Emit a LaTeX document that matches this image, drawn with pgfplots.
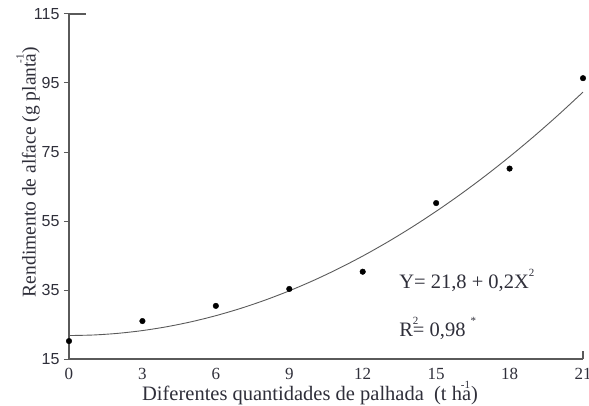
\documentclass[border=0pt]{standalone}
\usepackage{fontspec}
\setmainfont{Liberation Serif}
\newfontfamily\arial{Liberation Sans}
\usepackage{pgfplots}
\pgfplotsset{compat=1.18}
\definecolor{axgray}{HTML}{5A5A5A}
\definecolor{txt}{HTML}{2F2F3A}
\newcommand{\supr}[1]{\raisebox{12pt}{\fontsize{11}{11}\selectfont #1}}
\begin{document}
\begin{tikzpicture}
\useasboundingbox (-69pt,-46pt) rectangle (520pt,359pt);
\begin{axis}[
  scale only axis,
  width=514pt, height=345pt,
  at={(0,0)}, anchor=south west,
  xmin=0, xmax=21, ymin=15, ymax=115,
  axis x line*=bottom, axis y line*=left,
  axis line style={axgray, line width=1.1pt, -},
  xtick={0,3,...,21}, ytick={15,35,...,115},
  x tick style={draw=none},
  y tick style={axgray, line width=1pt},
  tick align=outside,
  major tick length=5pt,
  clip=false,
  xticklabel style={font=\fontsize{17}{19}\selectfont, text=txt, yshift=-1pt},
  yticklabel style={font=\arial\fontsize{16}{18}\selectfont, text=txt, xshift=-1pt},
  /pgf/number format/assume math mode=true,
  xlabel={Diferentes quantidades de palhada\ \ (t ha\llap{\supr{-1}\hspace{1pt}})},
  ylabel={Rendimento de alface (g planta\llap{\supr{-1}\hspace{1pt}})},
  every axis x label/.style={at={(axis description cs:0.469,0)}, yshift=-34pt, anchor=center, font=\fontsize{20.5}{22}\selectfont, text=txt},
  every axis y label/.style={at={(axis description cs:0,0.542)}, xshift=-41pt, rotate=90, anchor=center, font=\fontsize{19.5}{21}\selectfont, text=txt},
]
\addplot[axgray, line width=0.9pt, smooth, no marks] coordinates {
(0,21.8) (1,21.96) (2,22.44) (3,23.24) (4,24.36) (5,25.8) (6,27.56) (7,29.64)
(8,32.04) (9,34.76) (10,37.8) (11,41.16) (12,44.84) (13,48.84) (14,53.16)
(15,57.8) (16,62.76) (17,68.04) (18,73.64) (19,79.56) (20,85.8) (21,92.36)
};
\addplot[only marks, mark=*, mark size=2.8pt, black] coordinates {
(0,20.2) (3,26.0) (6,30.4) (9,35.3) (12,40.3) (15,60.2) (18,70.2) (21,96.4)
};
\draw[axgray, line width=1.1pt] (axis cs:0,115) -- ([xshift=17pt]axis cs:0,115);
\draw[axgray, line width=1.1pt] (axis cs:21,15) -- ([yshift=8pt]axis cs:21,15);
\node[anchor=west, text=txt, font=\fontsize{20.5}{22}\selectfont] at (axis cs:13.35,37.9) {Y= 21,8 + 0,2X\supr{2}};
\node[anchor=west, text=txt, font=\fontsize{20.5}{22}\selectfont] at (axis cs:13.35,24.0) {R\rlap{\supr{2}}= 0,98 \supr{*}};
\end{axis}
\end{tikzpicture}
\end{document}
